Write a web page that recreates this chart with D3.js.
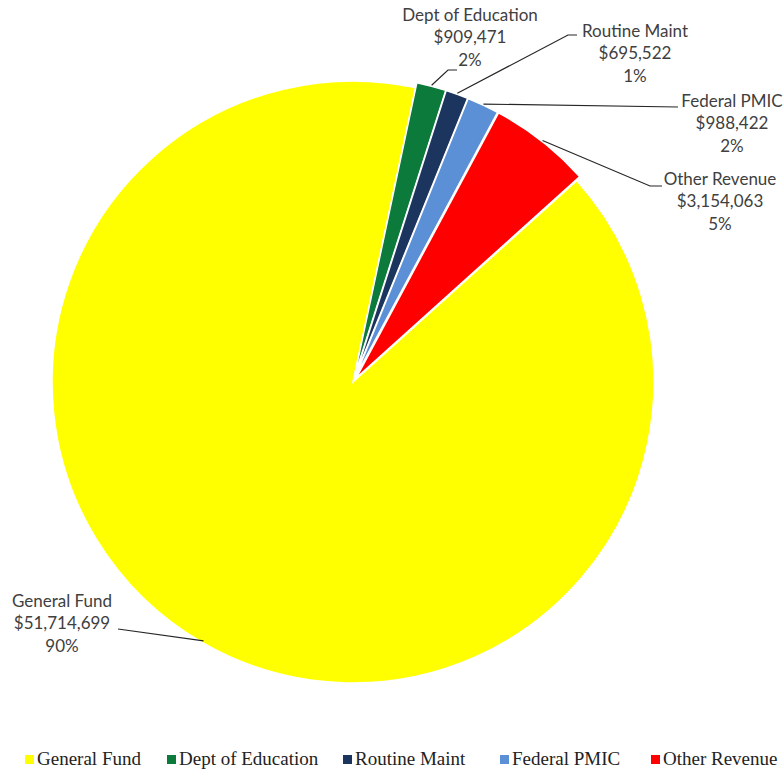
<!DOCTYPE html>
<html>
<head>
<meta charset="utf-8">
<script src="https://cdn.jsdelivr.net/npm/d3@7"></script>
<style>
  body { margin: 0; background: #fff; }
  svg { display: block; }
</style>
</head>
<body>
<svg id="chart" width="784" height="772"></svg>
<script>
let categories = ["General Fund", "Dept of Education", "Routine Maint", "Federal PMIC", "Other Revenue"]
let amounts = [51714699, 909471, 695522, 988422, 3154063]
let percents = ["90%", "2%", "1%", "2%", "5%"]
let colors = ["#ffff00", "#0b7a3b", "#1c355e", "#5b8fd6", "#ff0000"]

// where each data label sits (centre of text block) and its leader line bends
let label_pos = [
  {x: 62, y: 601, elbow: [118, 629], end: [118, 629]},
  {x: 470, y: 15, elbow: [448, 70], end: [457, 70]},
  {x: 635, y: 31, elbow: [568, 35], end: [577, 35]},
  {x: 732, y: 101, elbow: [678, 107], end: [678, 107]},
  {x: 720, y: 179, elbow: [650, 186], end: [662, 186]}
]

let center = {x: 353, y: 382},
  radius = 301,
  explode = 5,
  fmt = d3.format("$,")

let svg = d3.select("#chart")

let pie = d3.pie()
  .sort(null)
  .startAngle(48 * Math.PI / 180)
  .endAngle((48 + 360) * Math.PI / 180)

let arcs = pie(amounts)
let arc = d3.arc().innerRadius(0).outerRadius(radius)

function offset(d, i) {
  if (i == 0) return [0, 0]
  let a = (d.startAngle + d.endAngle) / 2
  return [explode * Math.sin(a), -explode * Math.cos(a)]
}

let g = svg.append("g")
  .attr("transform", `translate(${center.x},${center.y})`)

g.selectAll("path")
  .data(arcs).enter()
  .append("path")
  .attr("d", arc)
  .attr("transform", (d, i) => `translate(${offset(d, i)})`)
  .attr("fill", (d, i) => colors[i])
  .attr("stroke", "#fff")
  .attr("stroke-width", 1.5)

// leader lines from the outer edge of each slice
function anchor(d, i) {
  let a = (d.startAngle + d.endAngle) / 2
  let [ox, oy] = offset(d, i)
  let r = i == 0 ? radius - 2 : radius + 1
  return [center.x + ox + r * Math.sin(a), center.y + oy - r * Math.cos(a)]
}

svg.append("g")
  .selectAll("polyline")
  .data(arcs).enter()
  .append("polyline")
  .attr("points", (d, i) => {
    let p = label_pos[i]
    return [anchor(d, i), p.elbow, p.end].join(" ")
  })
  .attr("fill", "none")
  .attr("stroke", "#262626")
  .attr("stroke-width", 1.2)

let labels = svg.append("g")
  .attr("font-family", "Lato, 'Open Sans', sans-serif")
  .attr("font-size", 17)
  .attr("fill", "#404040")
  .attr("text-anchor", "middle")
  .selectAll("text")
  .data(arcs).enter()
  .append("text")
  .attr("transform", (d, i) => `translate(${label_pos[i].x},${label_pos[i].y})`)

labels.selectAll("tspan")
  .data((d, i) => [categories[i], fmt(amounts[i]), percents[i]])
  .enter()
  .append("tspan")
  .attr("x", 0)
  .attr("dy", (d, j) => j == 0 ? "0.35em" : 22.5)
  .text(d => d)

// legend
let legend_x = [25, 167, 343, 500, 651]
let legend = svg.append("g")
  .attr("font-family", "'Liberation Serif', 'Times New Roman', serif")
  .attr("font-size", 19)
  .attr("fill", "#222")
  .selectAll("g")
  .data(categories).enter()
  .append("g")
  .attr("transform", (d, i) => `translate(${legend_x[i]},765)`)

legend.append("rect")
  .attr("x", 0).attr("y", -10)
  .attr("width", 9).attr("height", 9)
  .attr("fill", (d, i) => colors[i])

legend.append("text")
  .attr("x", 12)
  .text(d => d)
</script>
</body>
</html>
